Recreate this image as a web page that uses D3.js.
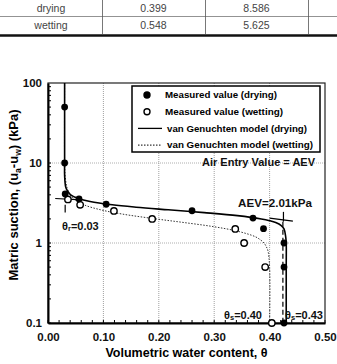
<!DOCTYPE html>
<html>
<head>
<meta charset="utf-8">
<script src="https://cdn.jsdelivr.net/npm/d3@7"></script>
<style>
  body { margin: 0; background: #fff; }
  svg { display: block; }
</style>
</head>
<body>
<div id="chart"></div>
<script>
// table rows above the chart
const tableRows = ['drying', 'wetting'];
const tableAlpha = ['0.399', '0.548'];
const tableN = ['8.586', '5.625'];

// measured values [theta, suction kPa]
const measuredDrying = [
    [0.030, 50], [0.030, 10], [0.031, 4.1], [0.056, 3.55], [0.105, 3.05],
    [0.260, 2.53], [0.370, 2.05], [0.389, 1.51], [0.426, 1.0], [0.426, 0.5], [0.426, 0.1]
];
const measuredWetting = [
    [0.036, 3.5], [0.058, 3.0], [0.119, 2.52], [0.188, 2.0], [0.338, 1.5],
    [0.354, 1.0], [0.392, 0.5], [0.404, 0.1]
];

// van Genuchten model curves [theta, suction kPa]
const modelDrying = [
    [0.430, 0.1], [0.430, 0.5], [0.430, 1.0], [0.429, 1.2], [0.426, 1.5], [0.421, 1.65],
    [0.411, 1.8], [0.400, 1.9], [0.385, 2.0], [0.342, 2.2], [0.282, 2.4], [0.217, 2.6],
    [0.159, 2.8], [0.116, 3.0], [0.076, 3.3], [0.055, 3.6], [0.041, 4.0], [0.035, 4.5],
    [0.032, 5], [0.030, 7], [0.030, 10], [0.030, 100]
];
const modelWetting = [
    [0.400, 0.1], [0.400, 0.5], [0.397, 0.8], [0.394, 0.9], [0.390, 1.0], [0.383, 1.1],
    [0.374, 1.2], [0.343, 1.4], [0.299, 1.6], [0.246, 1.8], [0.195, 2.0], [0.134, 2.3],
    [0.095, 2.6], [0.065, 3.0], [0.048, 3.5], [0.040, 4.0], [0.034, 5], [0.031, 7],
    [0.030, 10], [0.030, 100]
];

// tangent construction lines
const tangentLines = [
    { pts: [[0.013, 3.6], [0.060, 3.45]], dash: null },
    { pts: [[0.031, 3.0], [0.031, 2.4]], dash: null },
    { pts: [[0.400, 2.05], [0.442, 1.88]], dash: null },
    { pts: [[0.425, 2.45], [0.425, 1.85]], dash: null },
    { pts: [[0.424, 1.85], [0.424, 0.1]], dash: '5,3' }
];

const xTicks = [0, 0.1, 0.2, 0.3, 0.4, 0.5];
const yTicks = [0.1, 1, 10, 100];

const legendItems = [
    { label: 'Measured value (drying)', type: 'dot', fill: '#000', w: 112 },
    { label: 'Measured value (wetting)', type: 'dot', fill: '#fff', w: 118 },
    { label: 'van Genuchten model (drying)', type: 'line', dash: null, w: 140 },
    { label: 'van Genuchten model (wetting)', type: 'line', dash: '1.5,1.5', w: 146 }
];

const width = 337, height = 364;
const margin = { top: 83, right: 12, bottom: 41, left: 48 };
const innerW = width - margin.left - margin.right;
const innerH = height - margin.top - margin.bottom;

const svg = d3.select('#chart').append('svg')
    .attr('width', width)
    .attr('height', height)
    .style('font-family', '"Liberation Sans", Arial, sans-serif');

// --- table ---
const colX = [0, 102, 205, 308, 337];
const tbl = svg.append('g').attr('class', 'table');
tbl.append('line').attr('x1', 0).attr('x2', width).attr('y1', 16.5).attr('y2', 16.5)
    .attr('stroke', '#777').attr('stroke-width', 0.8);
[102, 205, 308].forEach(x => {
    tbl.append('line').attr('x1', x + 0.5).attr('x2', x + 0.5).attr('y1', 0).attr('y2', 34)
        .attr('stroke', '#555').attr('stroke-width', 0.8);
});
tbl.append('line').attr('x1', 0).attr('x2', width).attr('y1', 35.5).attr('y2', 35.5)
    .attr('stroke', '#111').attr('stroke-width', 2.5);
tableRows.forEach((r, i) => {
    const y = 12 + i * 16.5;
    [r, tableAlpha[i], tableN[i]].forEach((t, j) => {
        tbl.append('text')
            .attr('x', (colX[j] + colX[j + 1]) / 2)
            .attr('y', y)
            .attr('text-anchor', 'middle')
            .style('font-size', '10.5px')
            .style('fill', '#444')
            .text(t);
    });
});

// --- chart ---
const x = d3.scaleLinear().domain([0, 0.5]).range([0, innerW]);
const y = d3.scaleLog().domain([0.1, 100]).range([innerH, 0]);

const chart = svg.append('g')
    .attr('transform', `translate(${margin.left},${margin.top})`);

// gridlines
chart.append('g').selectAll('line')
    .data(xTicks.slice(1, -1))
    .join('line')
    .attr('x1', d => x(d)).attr('x2', d => x(d))
    .attr('y1', 0).attr('y2', innerH)
    .attr('stroke', '#888').attr('stroke-width', 0.8).attr('stroke-dasharray', '1,1');
chart.append('g').selectAll('line')
    .data([1, 10])
    .join('line')
    .attr('x1', 0).attr('x2', innerW)
    .attr('y1', d => y(d)).attr('y2', d => y(d))
    .attr('stroke', '#999').attr('stroke-width', 0.8).attr('stroke-dasharray', '1,1');

// minor ticks
const xMinor = d3.range(0, 0.5001, 0.02);
chart.append('g').selectAll('line')
    .data(xMinor)
    .join('line')
    .attr('x1', d => x(d)).attr('x2', d => x(d))
    .attr('y1', innerH).attr('y2', innerH - 3)
    .attr('stroke', '#000').attr('stroke-width', 1);
const yMinor = y.ticks().filter(d => d < 100);
chart.append('g').selectAll('line')
    .data(yMinor)
    .join('line')
    .attr('x1', 0).attr('x2', 3)
    .attr('y1', d => y(d)).attr('y2', d => y(d))
    .attr('stroke', '#000').attr('stroke-width', 1);

// frame
chart.append('rect')
    .attr('width', innerW).attr('height', innerH)
    .attr('fill', 'none').attr('stroke', '#222').attr('stroke-width', 1.2);

// axes
const xAxis = d3.axisBottom(x).tickValues(xTicks).tickSize(0).tickPadding(10)
    .tickFormat(d3.format('.2f'));
const yAxis = d3.axisLeft(y).tickValues(yTicks).tickSize(0).tickPadding(6)
    .tickFormat(d => d === 0.1 ? '0.1' : d3.format('d')(d));

chart.append('g')
    .attr('transform', `translate(0,${innerH})`)
    .call(xAxis)
    .call(g => g.select('.domain').attr('stroke', '#000').attr('stroke-width', 2))
    .call(g => g.selectAll('text').style('font-size', '11.5px').style('font-weight', 'bold')
        .style('font-family', '"Liberation Sans", Arial, sans-serif').attr('fill', '#111'));
chart.append('g')
    .call(yAxis)
    .call(g => g.select('.domain').attr('stroke', '#000').attr('stroke-width', 2))
    .call(g => g.selectAll('text').style('font-size', '11.5px').style('font-weight', 'bold')
        .style('font-family', '"Liberation Sans", Arial, sans-serif').attr('fill', '#111'));

// model curves
const line = d3.line()
    .x(d => x(d[0]))
    .y(d => y(d[1]))
    .curve(d3.curveCatmullRom.alpha(0.5));

chart.append('path')
    .datum(modelWetting)
    .attr('d', line)
    .attr('fill', 'none').attr('stroke', '#333').attr('stroke-width', 1)
    .attr('stroke-dasharray', '1.5,1.5');
chart.append('path')
    .datum(modelDrying)
    .attr('d', line)
    .attr('fill', 'none').attr('stroke', '#000').attr('stroke-width', 1.6);

// tangent construction lines
tangentLines.forEach(t => {
    chart.append('path')
        .datum(t.pts)
        .attr('d', d3.line().x(d => x(d[0])).y(d => y(d[1])))
        .attr('fill', 'none').attr('stroke', '#000').attr('stroke-width', 1.2)
        .attr('stroke-dasharray', t.dash);
});

// measured points
chart.append('g').selectAll('circle')
    .data(measuredWetting)
    .join('circle')
    .attr('cx', d => x(d[0])).attr('cy', d => y(d[1]))
    .attr('r', 3.2)
    .attr('fill', '#fff').attr('stroke', '#000').attr('stroke-width', 1.4);
chart.append('g').selectAll('circle')
    .data(measuredDrying)
    .join('circle')
    .attr('cx', d => x(d[0])).attr('cy', d => y(d[1]))
    .attr('r', 3.4)
    .attr('fill', '#000');

// legend
const legend = chart.append('g').attr('transform', `translate(${132 - margin.left},${86 - margin.top})`);
legend.append('rect')
    .attr('width', 188).attr('height', 66)
    .attr('fill', '#fff').attr('stroke', '#000').attr('stroke-width', 1.5);
legendItems.forEach((it, i) => {
    const ly = 9 + i * 16.7;
    if (it.type === 'dot') {
        legend.append('circle').attr('cx', 15).attr('cy', ly).attr('r', 3)
            .attr('fill', it.fill).attr('stroke', '#000').attr('stroke-width', 1.4);
    } else {
        legend.append('line').attr('x1', 6).attr('x2', 30).attr('y1', ly).attr('y2', ly)
            .attr('stroke', '#000').attr('stroke-width', it.dash ? 1 : 1.3)
            .attr('stroke-dasharray', it.dash);
    }
    legend.append('text')
        .attr('x', it.type === 'dot' ? 33 : 35)
        .attr('y', ly + 3.3)
        .attr('textLength', it.w)
        .attr('lengthAdjust', 'spacingAndGlyphs')
        .style('font-size', '9.5px').style('font-weight', 'bold')
        .text(it.label);
});

// annotations
const ann = svg.append('g').style('font-weight', 'bold').attr('fill', '#111');
ann.append('text').attr('x', 202).attr('y', 166).style('font-size', '11px')
    .attr('textLength', 113).attr('lengthAdjust', 'spacingAndGlyphs').text('Air Entry Value = AEV');
ann.append('text').attr('x', 238).attr('y', 207).style('font-size', '11px')
    .attr('textLength', 74).attr('lengthAdjust', 'spacingAndGlyphs').text('AEV=2.01kPa');
const tr = ann.append('text').attr('x', 62).attr('y', 230).style('font-size', '11px');
tr.append('tspan').text('θ');
tr.append('tspan').attr('font-size', '7.5px').attr('dy', 1).text('r');
tr.append('tspan').attr('dy', -1).text('=0.03');
const ts1 = ann.append('text').attr('x', 224).attr('y', 319).style('font-size', '11px');
ts1.append('tspan').text('θ');
ts1.append('tspan').attr('font-size', '7.5px').attr('dy', 1).text('s');
ts1.append('tspan').attr('dy', -1).text('=0.40');
const ts2 = ann.append('text').attr('x', 285).attr('y', 319).style('font-size', '11px');
ts2.append('tspan').text('θ');
ts2.append('tspan').attr('font-size', '7.5px').attr('dy', 1).text('s');
ts2.append('tspan').attr('dy', -1).text('=0.43');

// axis titles
svg.append('text')
    .attr('x', margin.left + innerW / 2)
    .attr('y', 357)
    .attr('text-anchor', 'middle')
    .style('font-size', '12.5px').style('font-weight', 'bold')
    .text('Volumetric water content, θ');

const yTitle = svg.append('text')
    .attr('transform', `translate(18,${195}) rotate(-90)`)
    .attr('text-anchor', 'middle')
    .style('font-size', '13px').style('font-weight', 'bold');
yTitle.append('tspan').text('Matric suction, (u');
yTitle.append('tspan').attr('font-size', '8.5px').attr('dy', 3).text('a');
yTitle.append('tspan').attr('dy', -3).text('-u');
yTitle.append('tspan').attr('font-size', '8.5px').attr('dy', 3).text('w');
yTitle.append('tspan').attr('dy', -3).text(') (kPa)');
</script>
</body>
</html>
